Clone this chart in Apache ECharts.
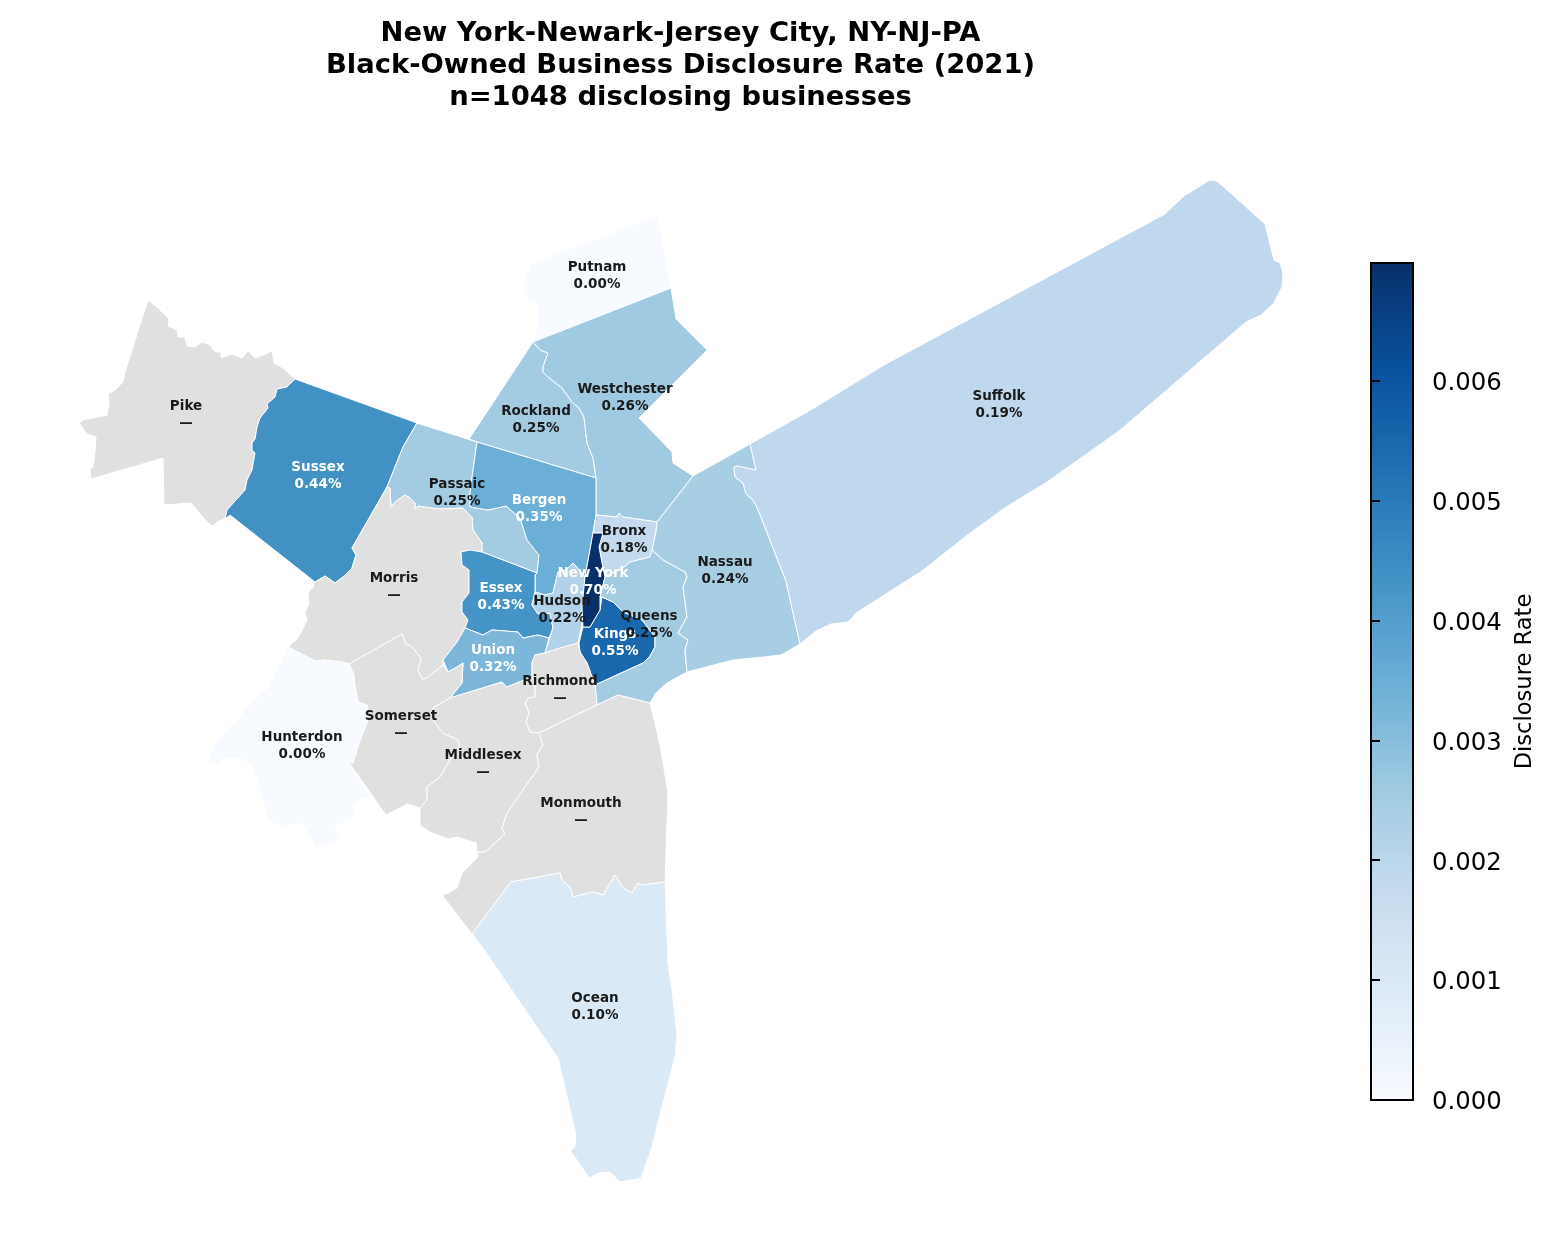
<!DOCTYPE html>
<html>
<head>
<meta charset="utf-8">
<title>Black-Owned Business Disclosure Rate</title>
<script src="https://cdn.jsdelivr.net/npm/echarts@6/dist/echarts.min.js"></script>
<style>
    html, body { margin: 0; padding: 0; background: #fff; }
    #chart { width: 1553px; height: 1251px; }
</style>
</head>
<body>
<div id="chart"></div>
<script>
// 各县数据
const countyNames = ['Pike', 'Sussex', 'Passaic', 'Rockland', 'Putnam', 'Westchester', 'Bergen', 'Morris', 'Essex', 'Union',
    'Hudson', 'Bronx', 'Kings', 'New York', 'Queens', 'Nassau', 'Suffolk', 'Richmond', 'Somerset', 'Hunterdon', 'Middlesex', 'Monmouth', 'Ocean'];
const disclosureRates = [null, 0.0044, 0.0025, 0.0025, 0, 0.0026, 0.0035, null, 0.0043, 0.0032,
    0.0022, 0.0018, 0.0055, 0.00698, 0.0025, 0.0024, 0.0019, null, null, 0, null, null, 0.001];
const labelPoints = [[186, 415], [318, 476], [457, 493], [536, 420], [597, 276], [625, 398], [539, 509], [394, 587], [501, 597], [493, 659],
    [562, 610], [624, 540], [615, 643], [593, 582], [649, 625], [725, 571], [999, 405], [560, 690], [401, 725], [302, 746], [483, 764], [581, 812], [595, 1007]];

// 县界，读自图片
const pikeOutline = [[148, 300], [158, 308], [169, 319], [168, 326], [177, 330], [178, 337], [185, 337], [187, 346], [195, 347], [202, 342], [210, 345], [215, 352], [221, 352], [221, 358], [232, 354], [242, 358], [248, 351], [255, 358], [263, 355], [272, 351], [274, 363], [283, 368], [295, 379], [287, 387], [277, 389], [275, 397], [267, 404], [268, 408], [260, 418], [257, 427], [255, 439], [252, 443], [252, 450], [255, 453], [252, 470], [247, 480], [245, 490], [236, 500], [227, 510], [225, 519], [217, 522], [213, 526], [208, 523], [191, 503], [164, 505], [163, 458], [91, 479], [90, 469], [93, 467], [95, 453], [96, 437], [87, 434], [79, 423], [83, 420], [92, 418], [107, 415], [109, 403], [108, 394], [115, 390], [123, 382], [125, 372]];
const sussexOutline = [[295, 379], [287, 387], [277, 389], [275, 397], [267, 404], [268, 408], [260, 418], [257, 427], [255, 439], [252, 443], [252, 450], [255, 453], [252, 470], [247, 480], [245, 490], [236, 500], [227, 510], [225, 519], [230, 515], [315, 582], [325, 576], [335, 583], [343, 577], [352, 568], [356, 555], [352, 548], [387, 487], [403, 447], [417, 423]];
const passaicOutline = [[417, 423], [477, 442], [473, 470], [470, 493], [470, 507], [488, 510], [506, 506], [520, 518], [527, 540], [539, 555], [537, 573], [482, 552], [482, 543], [473, 530], [472, 517], [463, 508], [443, 509], [430, 508], [418, 506], [415, 509], [415, 503], [410, 498], [405, 495], [395, 502], [391, 507], [390, 488], [387, 487], [403, 447]];
const rocklandOutline = [[533, 342], [540, 350], [548, 353], [543, 367], [543, 372], [548, 377], [562, 388], [572, 402], [579, 408], [584, 417], [587, 443], [593, 458], [596, 478], [477, 442], [469, 439]];
const putnamOutline = [[658, 216], [671, 288], [533, 342], [537, 330], [537, 304], [530, 303], [522, 288], [531, 263]];
const westchesterOutline = [[533, 342], [671, 288], [676, 319], [707, 350], [639, 418], [672, 452], [673, 463], [693, 476], [657, 522], [623, 517], [619, 513], [617, 517], [596, 515], [596, 478], [593, 458], [587, 443], [584, 417], [579, 408], [572, 402], [562, 388], [548, 377], [543, 372], [543, 367], [548, 353], [540, 350]];
const bergenOutline = [[477, 442], [596, 478], [596, 515], [593, 533], [585, 577], [573, 563], [566, 570], [558, 572], [553, 593], [545, 595], [535, 592], [535, 575], [537, 573], [539, 555], [527, 540], [520, 518], [506, 506], [488, 510], [470, 507], [470, 493], [473, 470]];
const morrisOutline = [[315, 582], [325, 576], [335, 583], [343, 577], [352, 568], [356, 555], [352, 548], [387, 487], [390, 488], [391, 507], [395, 502], [405, 495], [410, 498], [415, 503], [415, 509], [418, 506], [430, 508], [443, 509], [463, 508], [472, 517], [473, 530], [482, 543], [482, 552], [470, 550], [461, 552], [462, 565], [469, 570], [469, 593], [462, 602], [462, 612], [468, 620], [465, 628], [457, 642], [443, 660], [443, 665], [427, 678], [422, 679], [418, 670], [421, 658], [412, 647], [405, 643], [402, 634], [349, 664], [342, 662], [323, 660], [315, 661], [288, 647], [298, 638], [307, 620], [305, 613], [309, 603], [308, 593], [313, 587]];
const essexOutline = [[461, 552], [470, 550], [482, 552], [537, 573], [535, 575], [535, 592], [532, 605], [538, 614], [550, 613], [553, 628], [549, 638], [538, 635], [523, 638], [518, 632], [492, 630], [483, 635], [465, 628], [468, 620], [462, 612], [462, 602], [469, 593], [469, 570], [462, 565]];
const unionOutline = [[465, 628], [483, 635], [492, 630], [518, 632], [523, 638], [538, 635], [549, 638], [545, 653], [535, 655], [532, 663], [532, 677], [507, 687], [502, 682], [450, 698], [462, 683], [463, 663], [457, 667], [448, 672], [443, 660], [457, 642]];
const hudsonOutline = [[535, 592], [545, 595], [553, 593], [558, 572], [566, 570], [573, 563], [585, 577], [582, 607], [582, 623], [578, 643], [560, 648], [545, 653], [553, 628], [550, 613], [538, 614], [532, 605]];
const bronxOutline = [[596, 515], [617, 517], [619, 513], [623, 517], [657, 522], [656, 532], [652, 550], [650, 557], [630, 562], [623, 568], [605, 577], [602, 563], [599, 547], [603, 533], [593, 533]];
const kingsOutline = [[579, 643], [580, 652], [587, 663], [595, 685], [643, 663], [650, 656], [655, 647], [655, 637], [642, 620], [623, 612], [613, 602], [602, 597], [600, 610], [590, 627], [583, 627]];
const newYorkOutline = [[593, 533], [603, 533], [599, 547], [602, 563], [605, 577], [600, 597], [600, 610], [590, 627], [583, 627], [582, 607], [585, 577]];
const queensOutline = [[605, 577], [623, 568], [630, 562], [650, 557], [652, 550], [663, 560], [685, 572], [687, 577], [683, 587], [687, 617], [678, 633], [688, 640], [685, 650], [687, 672], [667, 683], [656, 693], [650, 703], [618, 695], [597, 705], [595, 685], [643, 663], [650, 656], [655, 647], [655, 637], [642, 620], [623, 612], [613, 602], [602, 597], [600, 597]];
const nassauOutline = [[693, 476], [750, 444], [756, 470], [751, 469], [737, 466], [734, 467], [735, 477], [743, 483], [746, 494], [752, 499], [757, 507], [786, 581], [800, 644], [781, 655], [763, 657], [733, 660], [687, 672], [685, 650], [688, 640], [678, 633], [687, 617], [683, 587], [687, 577], [685, 572], [663, 560], [652, 550], [656, 532], [657, 522]];
const suffolkOutline = [[750, 444], [809, 411], [884, 365], [1165, 214], [1184, 196], [1210, 180], [1217, 181], [1265, 224], [1274, 260], [1280, 263], [1283, 273], [1282, 287], [1273, 304], [1261, 315], [1246, 322], [1119, 431], [1047, 482], [1006, 507], [966, 536], [922, 571], [892, 590], [856, 613], [848, 622], [831, 624], [816, 631], [800, 644], [786, 581], [757, 507], [752, 499], [746, 494], [743, 483], [735, 477], [734, 467], [737, 466], [751, 469], [756, 470]];
const richmondOutline = [[545, 653], [560, 648], [578, 643], [580, 652], [587, 663], [595, 685], [597, 705], [539, 733], [530, 732], [526, 722], [529, 713], [525, 703], [528, 698], [535, 697], [535, 685], [532, 677], [532, 663], [535, 655]];
const somersetOutline = [[349, 664], [402, 634], [405, 643], [412, 647], [421, 658], [418, 670], [422, 679], [427, 678], [443, 665], [448, 672], [457, 667], [463, 663], [462, 683], [450, 698], [433, 708], [433, 720], [443, 733], [458, 740], [460, 745], [450, 760], [440, 777], [427, 787], [427, 800], [420, 808], [407, 804], [386, 815], [347, 760], [353, 763], [360, 740], [367, 723], [367, 705], [358, 702], [355, 687], [354, 675]];
const hunterdonOutline = [[288, 647], [315, 661], [323, 660], [342, 662], [349, 664], [354, 675], [355, 687], [358, 702], [367, 705], [367, 723], [360, 740], [353, 763], [347, 760], [370, 797], [352, 803], [356, 817], [335, 826], [342, 840], [316, 848], [302, 823], [282, 826], [270, 822], [262, 800], [253, 767], [240, 758], [223, 758], [215, 766], [207, 762], [218, 738], [237, 720], [253, 700], [268, 688]];
const middlesexOutline = [[450, 698], [502, 682], [507, 687], [532, 677], [535, 685], [535, 697], [528, 698], [525, 703], [529, 713], [526, 722], [530, 732], [539, 733], [543, 745], [537, 755], [539, 767], [507, 813], [502, 828], [505, 834], [485, 852], [477, 852], [476, 843], [457, 837], [448, 839], [430, 832], [420, 825], [420, 808], [427, 800], [427, 787], [440, 777], [450, 760], [460, 745], [458, 740], [443, 733], [433, 720], [433, 708]];
const monmouthOutline = [[539, 733], [597, 705], [618, 695], [650, 703], [660, 745], [668, 793], [665, 882], [643, 885], [638, 883], [632, 893], [623, 888], [615, 875], [603, 895], [593, 892], [573, 897], [570, 887], [562, 880], [560, 873], [511, 882], [472, 934], [442, 895], [448, 893], [457, 888], [462, 873], [478, 857], [477, 852], [485, 852], [505, 834], [502, 828], [507, 813], [539, 767], [537, 755], [543, 745]];
const oceanOutline = [[511, 882], [560, 873], [562, 880], [570, 887], [573, 897], [593, 892], [603, 895], [615, 875], [623, 888], [632, 893], [638, 883], [643, 885], [665, 882], [668, 963], [672, 990], [677, 1035], [675, 1057], [662, 1107], [652, 1147], [641, 1178], [620, 1182], [610, 1172], [598, 1173], [589, 1178], [577, 1160], [570, 1151], [575, 1147], [576, 1135], [558, 1058], [483, 948], [472, 934]];

const countyOutlines = [pikeOutline, sussexOutline, passaicOutline, rocklandOutline, putnamOutline, westchesterOutline, bergenOutline, morrisOutline, essexOutline, unionOutline,
    hudsonOutline, bronxOutline, kingsOutline, newYorkOutline, queensOutline, nassauOutline, suffolkOutline, richmondOutline, somersetOutline, hunterdonOutline, middlesexOutline, monmouthOutline, oceanOutline];

const colorbarTicks = [0, 0.001, 0.002, 0.003, 0.004, 0.005, 0.006];
const blues = ['#f7fbff', '#deebf7', '#c6dbef', '#9ecae1', '#6baed6', '#4292c6', '#2171b5', '#08519c', '#08306b'];
const maxRate = 0.00698;

// y 向下，转成 GeoJSON 时翻转
const flip = p => [p[0], -p[1]];
const metroGeo = {
    type: 'FeatureCollection',
    features: countyNames.map((name, i) => ({
        type: 'Feature',
        properties: { name: name, cp: flip(labelPoints[i]) },
        geometry: { type: 'Polygon', coordinates: [countyOutlines[i].concat([countyOutlines[i][0]]).map(flip)] }
    }))
};
echarts.registerMap('metro', metroGeo);

const font = 'DejaVu Sans';
const chart = echarts.init(document.getElementById('chart'));
chart.setOption({
    animation: false,
    backgroundColor: '#fff',
    title: {
        text: 'New York-Newark-Jersey City, NY-NJ-PA\nBlack-Owned Business Disclosure Rate (2021)\nn=1048 disclosing businesses',
        left: 675.5,
        top: 13,
        textAlign: 'center',
        textStyle: { fontFamily: font, fontWeight: 'bold', fontSize: 27.4, lineHeight: 32, color: '#000' }
    },
    visualMap: {
        type: 'continuous',
        seriesIndex: 0,
        min: 0,
        max: maxRate,
        left: 1371,
        top: 263,
        itemWidth: 42,
        itemHeight: 837,
        padding: 0,
        text: null,
        calculable: false,
        hoverLink: false,
        inRange: { color: blues }
    },
    grid: { left: 1371, top: 263, width: 42, height: 837, show: true, z: 5, borderColor: '#000', borderWidth: 2, backgroundColor: 'transparent' },
    xAxis: { type: 'value', show: false, min: 0, max: 1 },
    yAxis: {
        type: 'value',
        position: 'right',
        min: 0,
        max: maxRate,
        z: 6,
        splitLine: { show: false },
        axisLine: { show: false },
        axisTick: { show: true, length: 9, customValues: colorbarTicks, lineStyle: { color: '#000', width: 2 } },
        axisLabel: {
            customValues: colorbarTicks,
            margin: 19,
            color: '#000',
            formatter: v => '{tick|' + v.toFixed(3) + '}',
            rich: { tick: { fontFamily: font, fontSize: 24.4, lineHeight: 30, verticalAlign: 'bottom', color: '#000' } }
        },
        name: 'Disclosure Rate',
        nameLocation: 'middle',
        nameRotate: 90,
        nameGap: 101,
        nameTextStyle: { fontFamily: font, fontSize: 22.6, color: '#000' }
    },
    series: [{
        type: 'map',
        map: 'metro',
        silent: true,
        roam: false,
        aspectScale: 1,
        boundingCoords: [[0, 0], [1553, -1251]],
        left: 0,
        top: 0,
        width: 1553,
        height: 1251,
        showLegendSymbol: false,
        itemStyle: { areaColor: '#e0e0e0', borderColor: '#fff', borderWidth: 1 },
        label: {
            show: true,
            fontFamily: font,
            fontWeight: 'bold',
            fontSize: 13.5,
            lineHeight: 17.5,
            color: '#1a1a1a',
            formatter: p => p.name + '\n' + (p.value == null || isNaN(p.value) ? '—' : (p.value * 100).toFixed(2) + '%')
        },
        data: countyNames.map((name, i) => ({
            name: name,
            value: disclosureRates[i],
            label: { color: disclosureRates[i] >= 0.003 ? '#fff' : '#1a1a1a' }
        }))
    }]
});
</script>
</body>
</html>
